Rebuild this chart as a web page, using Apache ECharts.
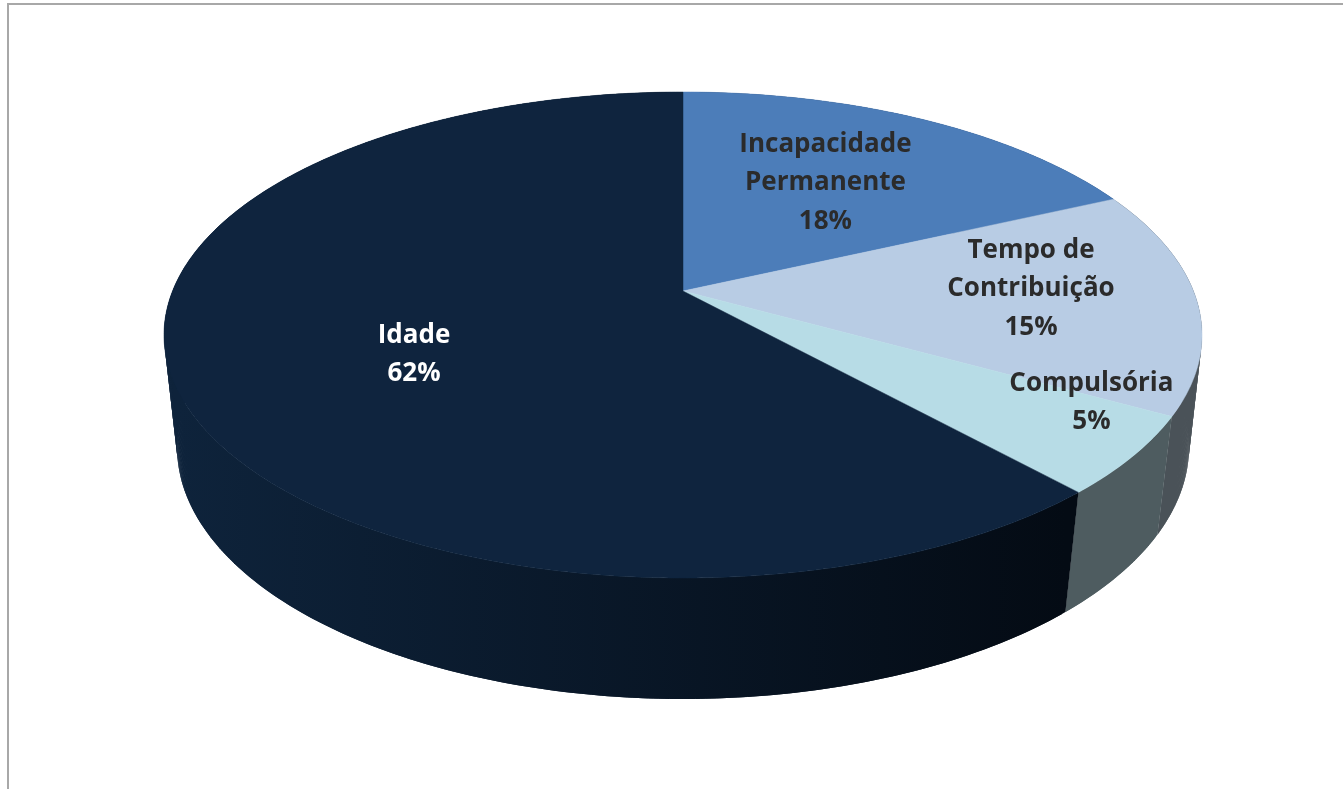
<!DOCTYPE html>
<html>
<head>
<meta charset="utf-8">
<style>html,body{margin:0;padding:0;background:#fff}#c{width:1343px;height:789px}</style>
<script src="https://cdn.jsdelivr.net/npm/echarts@6/dist/echarts.min.js"></script>
</head>
<body>
<div id="c"></div>
<script>
const categories = ['Incapacidade\nPermanente', 'Tempo de\nContribuição', 'Compulsória', 'Idade'];
const values = [18.1, 15, 5.2, 61.7];

const topColors = ['#4c7db9', '#b8cce4', '#b7dce6', '#0f243e'];
const wallColors = [
  ['#33537a', '#33537a'],
  ['#4a5258', '#4c5560'],
  ['#4e5c60', '#4a585e'],
  ['#040b14', '#0e233b']
];
const textColors = ['#2b2b2b', '#2b2b2b', '#2b2b2b', '#ffffff'];
const labelRadius = [0.588, 0.683, 0.857, 0.565];
const labelTurn = [-1.4, -2.95, -7.8, -6.2];

const topDisc = { cx: 683, cy: 335, rx: 519, ry: 243, b: 0.181 };
const baseDisc = { cx: 683, cy: 447, rx: 506, ry: 252, b: 0.169 };
const FONT = '"Open Sans", Lato, sans-serif';

const total = values.reduce((a, b) => a + b, 0);
const startDeg = i => values.slice(0, i).reduce((a, b) => a + b, 0) / total * 360;

function project(deg, r, d) {
  const t = deg * Math.PI / 180;
  const X = r * Math.sin(t), Y = r * Math.cos(t);
  const w = 1 + d.b * Y;
  return [d.cx + d.rx * X * Math.sqrt(1 - d.b * d.b) / w, d.cy - d.ry * (Y + d.b) / w];
}
function arc(from, to, d) {
  const n = Math.max(2, Math.ceil((to - from) * 2));
  const pts = [];
  for (let k = 0; k <= n; k++) pts.push(project(from + (to - from) * k / n, 1, d));
  return pts;
}

const rows = categories.map((c, i) => [i, values[i]]);

const option = {
  animation: false,
  graphic: [{
    type: 'polyline', silent: true,
    shape: { points: [[8, 789], [8, 4], [1343, 4]] },
    style: { stroke: '#a8a8a8', lineWidth: 2, fill: null }
  }],
  series: [
    {
      type: 'custom', coordinateSystem: 'none', silent: true, z: 2,
      data: rows,
      renderItem(params, api) {
        const i = api.value(0);
        const a = startDeg(i), b = a + api.value(1) / total * 360;
        const upper = arc(a, b, topDisc), lower = arc(a, b, baseDisc);
        const fill = new echarts.graphic.LinearGradient(1066, 0, 178, 0, [
          { offset: 0, color: wallColors[i][0] }, { offset: 1, color: wallColors[i][1] }
        ], true);
        const children = [];
        const last = upper.length - 1;
        for (let k = 0; k < last; k++) {
          const e = Math.min(k + 2, last);
          children.push({
            type: 'polygon',
            shape: { points: [upper[k], upper[e], lower[e], lower[k]] },
            style: { fill }
          });
        }
        return { type: 'group', children };
      }
    },
    {
      type: 'custom', coordinateSystem: 'none', silent: true, z: 3,
      data: rows,
      renderItem(params, api) {
        const i = api.value(0);
        const a = startDeg(i), b = a + api.value(1) / total * 360;
        const pts = [project(0, 0, topDisc)].concat(arc(a, b, topDisc));
        return { type: 'polygon', shape: { points: pts }, style: { fill: topColors[i], stroke: topColors[i], lineWidth: 0.5 } };
      }
    },
    {
      type: 'custom', coordinateSystem: 'none', silent: true, z: 4,
      data: rows,
      renderItem(params, api) {
        const i = api.value(0), v = api.value(1);
        const a = startDeg(i), mid = a + v / total * 180 + labelTurn[i];
        const p = project(mid, labelRadius[i], topDisc);
        return {
          type: 'text', x: p[0], y: p[1],
          style: {
            text: categories[i] + '\n' + Math.round(v) + '%',
            fill: textColors[i], font: 'bold 26px ' + FONT,
            align: 'center', verticalAlign: 'middle', lineHeight: 38.5
          }
        };
      }
    }
  ]
};
echarts.init(document.getElementById('c'), null, { renderer: 'canvas' }).setOption(option);
</script>
</body>
</html>
